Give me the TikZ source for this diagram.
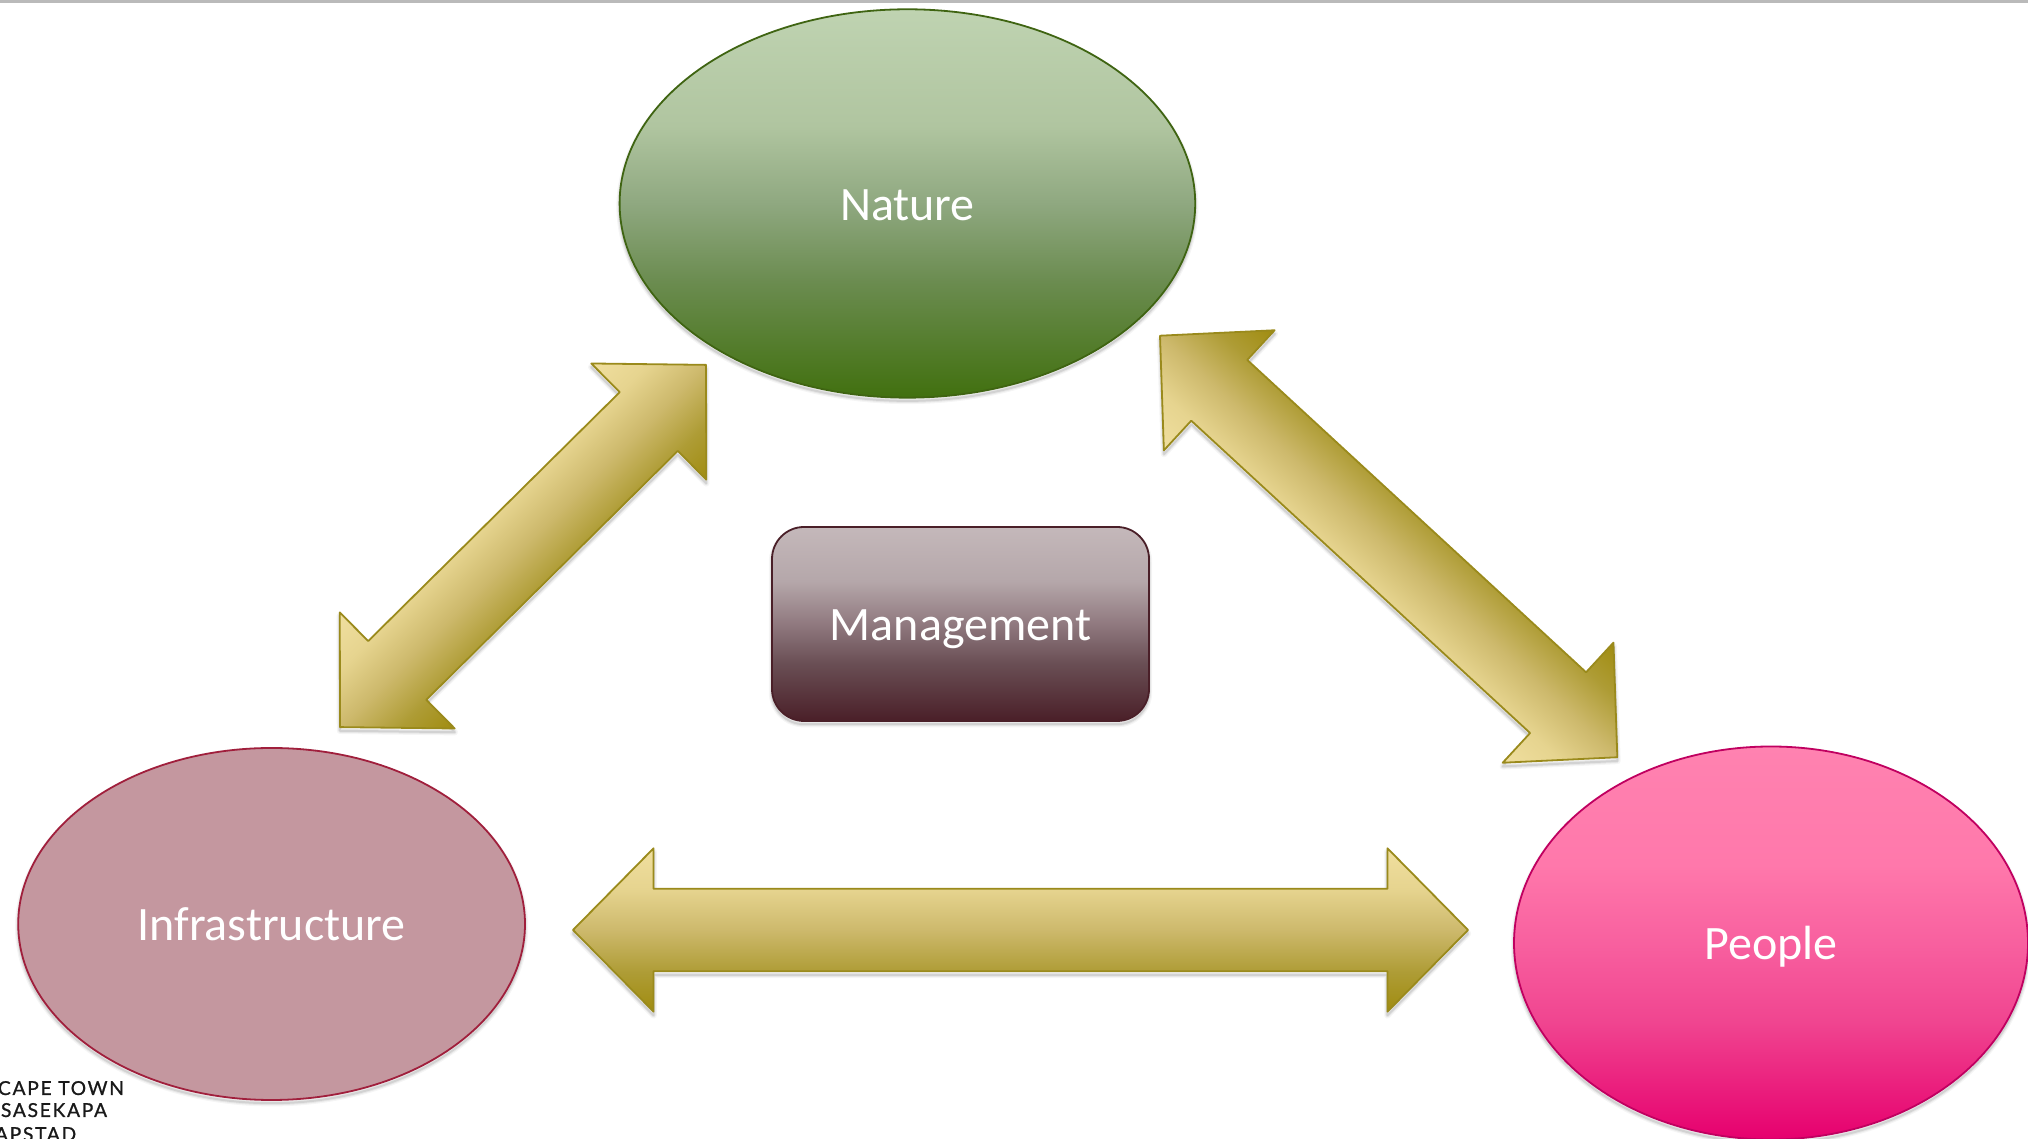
\documentclass[tikz,border=0pt]{standalone}
\usepackage{fontspec}
\setmainfont{Carlito}
\newfontfamily\logofont[LetterSpace=9,FakeBold=1]{Lato}
\usetikzlibrary{shapes.geometric,shapes.arrows}
\definecolor{arrowa}{HTML}{F0DF9F}
\definecolor{arrowb}{HTML}{E6D48F}
\definecolor{arrowc}{HTML}{CDB96C}
\definecolor{arrowd}{HTML}{AE9C35}
\definecolor{arrowe}{HTML}{A08C10}
\definecolor{arrowline}{HTML}{9A8A1C}
\definecolor{naturea}{HTML}{BFD3B1}
\definecolor{natureb}{HTML}{B0C5A0}
\definecolor{naturec}{HTML}{8FA880}
\definecolor{natured}{HTML}{6B8C50}
\definecolor{naturee}{HTML}{41700F}
\definecolor{natureline}{HTML}{3F6412}
\definecolor{infrafill}{HTML}{C4979F}
\definecolor{infraline}{HTML}{A01F3C}
\definecolor{peoplea}{HTML}{FF82B0}
\definecolor{peopleb}{HTML}{FF78AB}
\definecolor{peoplec}{HTML}{F8609F}
\definecolor{peopled}{HTML}{F04590}
\definecolor{peoplee}{HTML}{E6006E}
\definecolor{peopleline}{HTML}{C00060}
\definecolor{mgmta}{HTML}{C4B8BA}
\definecolor{mgmtb}{HTML}{B5A7AA}
\definecolor{mgmtc}{HTML}{90797F}
\definecolor{mgmtd}{HTML}{6A4F55}
\definecolor{mgmte}{HTML}{4A1F28}
\definecolor{mgmtline}{HTML}{4A1F28}
\pgfdeclareverticalshading{arrowshade}{100bp}{color(0bp)=(arrowe);color(25bp)=(arrowe);color(37bp)=(arrowd);color(50bp)=(arrowc);color(62.5bp)=(arrowb);color(75bp)=(arrowa);color(100bp)=(arrowa)}
\pgfdeclareverticalshading{natureshade}{100bp}{color(0bp)=(naturee);color(25bp)=(naturee);color(40bp)=(natured);color(50bp)=(naturec);color(60bp)=(natureb);color(75bp)=(naturea);color(100bp)=(naturea)}
\pgfdeclareverticalshading{peopleshade}{100bp}{color(0bp)=(peoplee);color(25bp)=(peoplee);color(40bp)=(peopled);color(50bp)=(peoplec);color(60bp)=(peopleb);color(75bp)=(peoplea);color(100bp)=(peoplea)}
\pgfdeclareverticalshading{mgmtshade}{100bp}{color(0bp)=(mgmte);color(25bp)=(mgmte);color(40bp)=(mgmtd);color(50bp)=(mgmtc);color(61bp)=(mgmtb);color(75bp)=(mgmta);color(100bp)=(mgmta)}
\tikzset{
  softshadow/.style 2 args={
    preaction={draw=black,draw opacity=.04,fill=none,line width=3.2pt,transform canvas={shift={(#1,#2)}}},
    preaction={draw=black,draw opacity=.06,fill=none,line width=2pt,transform canvas={shift={(#1,#2)}}},
    preaction={draw=black,draw opacity=.09,fill=none,line width=1pt,transform canvas={shift={(#1,#2)}}}
  },
  blockarrow/.style={
    shape=double arrow,double arrow tip angle=90.8,double arrow head indent=0pt,
    double arrow head extend=20.2pt,inner xsep=0pt,inner ysep=20.2pt,outer sep=0pt,
    draw=arrowline,line width=.9pt,line join=round,shade,shading=arrowshade
  },
  labelled/.style={
    inner sep=0pt,outer sep=0pt,line width=.9pt,text=white,align=center,
    font=\fontsize{24}{28}\selectfont,text height=21.8pt,text depth=5pt,
    softshadow={0pt}{-1.6pt}
  },
  oval/.style={labelled,shape=ellipse},
  logotext/.style={anchor=base west,inner sep=0pt,outer sep=0pt,text=black!90,
    font=\logofont\fontsize{9.6}{11}\selectfont}
}
\begin{document}
\begin{tikzpicture}[x=.5pt,y=.5pt]
\useasboundingbox (0,0) rectangle (2028,1139);
\clip (0,0) rectangle (2028,1139);
% top rule of the slide
\fill[black!27] (0,1136) rectangle (2028,1139);
% the three block arrows
\begin{scope}[transform canvas={shift={(523pt*.5,593pt*.5)},rotate=44.7}]
  \node[blockarrow,minimum height=257.5pt,softshadow={-1.3pt}{-1.3pt}] (arrowNI) {};
\end{scope}
\begin{scope}[transform canvas={shift={(1388.65pt*.5,592.5pt*.5)},rotate=137.33}]
  \node[blockarrow,minimum height=311pt,softshadow={-1.3pt}{1.3pt}] (arrowNP) {};
\end{scope}
\begin{scope}[transform canvas={shift={(1020.5pt*.5,209pt*.5)}}]
  \node[blockarrow,minimum height=447.5pt,softshadow={0pt}{-1.8pt}] (arrowIP) {};
\end{scope}
% ovals and box
\node[oval,minimum width=287.8pt,minimum height=194.2pt,draw=natureline,shade,shading=natureshade] (nature) at (907.4,935.5) {Nature};
\node[oval,minimum width=253.4pt,minimum height=176pt,draw=infraline,fill=infrafill] (infra) at (271.6,215) {Infrastructure};
\node[oval,minimum width=257pt,minimum height=196.5pt,draw=peopleline,shade,shading=peopleshade] (people) at (1771,196) {People};
\node[labelled,shape=rectangle,rounded corners=16pt,minimum width=188.5pt,minimum height=97pt,
  draw=mgmtline,shade,shading=mgmtshade] (mgmt) at (960.5,515) {Management};
% logo
\node[logotext] (logoA) at (-2,44) {CAPE TOWN};
\node[logotext] (logoB) at (1,22) {SASEKAPA};
\node[logotext] (logoC) at (-5,-2) {APSTAD};
\end{tikzpicture}
\end{document}
